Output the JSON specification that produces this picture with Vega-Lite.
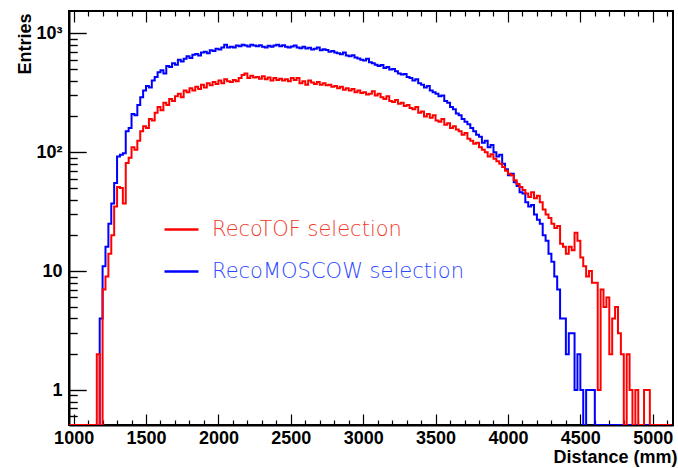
{
  "$schema": "https://vega.github.io/schema/vega-lite/v6.json",
  "width": 604,
  "height": 414,
  "autosize": {"type": "none"},
  "padding": {"left": 69, "top": 11, "right": 5, "bottom": 43},
  "background": "white",
  "config": {
    "view": {"stroke": "black", "strokeWidth": 2},
    "axis": {
      "grid": false,
      "ticks": true,
      "zindex": 1,
      "domainColor": "black",
      "domainWidth": 2,
      "tickColor": "black",
      "tickWidth": 1.2,
      "tickOpacity": 1,
      "gridColor": "black",
      "gridWidth": 1.2,
      "gridOpacity": 1,
      "labelFont": "Liberation Sans",
      "labelFontWeight": "bold",
      "labelFontSize": 18,
      "labelColor": "black",
      "titleFont": "Liberation Sans",
      "titleFontWeight": "bold",
      "titleFontSize": 18,
      "titleColor": "black"
    }
  },
  "data": {
    "values": [
      {"x":970,"r":0,"b":0},{"x":990,"r":0,"b":0},{"x":1010,"r":0,"b":0},{"x":1030,"r":0,"b":0},{"x":1050,"r":0,"b":0},
      {"x":1070,"r":0,"b":0},{"x":1090,"r":0,"b":0},{"x":1110,"r":0,"b":0},{"x":1130,"r":0,"b":0},{"x":1150,"r":0,"b":0},
      {"x":1170,"r":2,"b":0},{"x":1190,"r":0,"b":4},{"x":1210,"r":7,"b":11},{"x":1230,"r":9,"b":16},{"x":1250,"r":14,"b":25},
      {"x":1270,"r":20,"b":37},{"x":1290,"r":35,"b":55},{"x":1310,"r":51,"b":92},{"x":1330,"r":50,"b":95},{"x":1350,"r":37,"b":98},
      {"x":1370,"r":81,"b":150},{"x":1390,"r":90,"b":160},{"x":1410,"r":110,"b":210},{"x":1430,"r":105,"b":205},{"x":1450,"r":125,"b":250},
      {"x":1470,"r":150,"b":290},{"x":1490,"r":165,"b":330},{"x":1510,"r":160,"b":360},{"x":1530,"r":190,"b":350},{"x":1550,"r":185,"b":400},
      {"x":1570,"r":215,"b":430},{"x":1590,"r":240,"b":470},{"x":1610,"r":225,"b":490},{"x":1630,"r":260,"b":460},{"x":1650,"r":250,"b":530},
      {"x":1670,"r":280,"b":520},{"x":1690,"r":270,"b":560},{"x":1710,"r":295,"b":545},{"x":1730,"r":310,"b":600},{"x":1750,"r":290,"b":580},
      {"x":1770,"r":330,"b":610},{"x":1790,"r":320,"b":640},{"x":1810,"r":345,"b":620},{"x":1830,"r":330,"b":660},{"x":1850,"r":355,"b":670},
      {"x":1870,"r":340,"b":650},{"x":1890,"r":370,"b":690},{"x":1910,"r":350,"b":700},{"x":1930,"r":380,"b":680},{"x":1950,"r":365,"b":720},
      {"x":1970,"r":390,"b":710},{"x":1990,"r":375,"b":740},{"x":2010,"r":400,"b":730},{"x":2030,"r":380,"b":760},{"x":2050,"r":410,"b":800},
      {"x":2070,"r":395,"b":760},{"x":2090,"r":390,"b":770},{"x":2110,"r":405,"b":760},{"x":2130,"r":395,"b":790},{"x":2150,"r":420,"b":780},
      {"x":2170,"r":445,"b":800},{"x":2190,"r":460,"b":790},{"x":2210,"r":420,"b":775},{"x":2230,"r":440,"b":800},{"x":2250,"r":425,"b":790},
      {"x":2270,"r":430,"b":780},{"x":2290,"r":415,"b":795},{"x":2310,"r":435,"b":770},{"x":2330,"r":410,"b":760},{"x":2350,"r":425,"b":785},
      {"x":2370,"r":400,"b":770},{"x":2390,"r":420,"b":790},{"x":2410,"r":405,"b":800},{"x":2430,"r":415,"b":780},{"x":2450,"r":400,"b":795},
      {"x":2470,"r":410,"b":770},{"x":2490,"r":395,"b":760},{"x":2510,"r":420,"b":775},{"x":2530,"r":405,"b":790},{"x":2550,"r":420,"b":760},
      {"x":2570,"r":380,"b":750},{"x":2590,"r":395,"b":770},{"x":2610,"r":370,"b":745},{"x":2630,"r":400,"b":755},{"x":2650,"r":385,"b":730},
      {"x":2670,"r":375,"b":740},{"x":2690,"r":390,"b":760},{"x":2710,"r":370,"b":720},{"x":2730,"r":380,"b":735},{"x":2750,"r":365,"b":725},
      {"x":2770,"r":370,"b":700},{"x":2790,"r":355,"b":710},{"x":2810,"r":360,"b":690},{"x":2830,"r":345,"b":680},{"x":2850,"r":355,"b":665},
      {"x":2870,"r":335,"b":690},{"x":2890,"r":345,"b":650},{"x":2910,"r":330,"b":640},{"x":2930,"r":340,"b":655},{"x":2950,"r":320,"b":625},
      {"x":2970,"r":330,"b":615},{"x":2990,"r":315,"b":600},{"x":3010,"r":320,"b":590},{"x":3030,"r":305,"b":610},{"x":3050,"r":310,"b":570},
      {"x":3070,"r":325,"b":560},{"x":3090,"r":300,"b":545},{"x":3110,"r":310,"b":530},{"x":3130,"r":290,"b":540},{"x":3150,"r":280,"b":510},
      {"x":3170,"r":295,"b":520},{"x":3190,"r":270,"b":495},{"x":3210,"r":265,"b":500},{"x":3230,"r":275,"b":480},{"x":3250,"r":255,"b":460},
      {"x":3270,"r":260,"b":450},{"x":3290,"r":245,"b":455},{"x":3310,"r":250,"b":430},{"x":3330,"r":235,"b":420},{"x":3350,"r":230,"b":400},
      {"x":3370,"r":240,"b":410},{"x":3390,"r":215,"b":380},{"x":3410,"r":220,"b":370},{"x":3430,"r":200,"b":350},{"x":3450,"r":210,"b":360},
      {"x":3470,"r":195,"b":330},{"x":3490,"r":205,"b":320},{"x":3510,"r":185,"b":310},{"x":3530,"r":180,"b":295},{"x":3550,"r":190,"b":300},
      {"x":3570,"r":170,"b":270},{"x":3590,"r":175,"b":260},{"x":3610,"r":160,"b":240},{"x":3630,"r":165,"b":230},{"x":3650,"r":155,"b":212},
      {"x":3670,"r":150,"b":205},{"x":3690,"r":140,"b":190},{"x":3710,"r":145,"b":180},{"x":3730,"r":130,"b":172},{"x":3750,"r":125,"b":160},
      {"x":3770,"r":118,"b":150},{"x":3790,"r":120,"b":140},{"x":3810,"r":110,"b":135},{"x":3830,"r":105,"b":120},{"x":3850,"r":100,"b":125},
      {"x":3870,"r":92,"b":110},{"x":3890,"r":96,"b":115},{"x":3910,"r":88,"b":100},{"x":3930,"r":84,"b":92},{"x":3950,"r":80,"b":95},
      {"x":3970,"r":75,"b":80},{"x":3990,"r":70,"b":72},{"x":4010,"r":66,"b":64},{"x":4030,"r":64,"b":66},{"x":4050,"r":58,"b":56},
      {"x":4070,"r":54,"b":52},{"x":4090,"r":51,"b":46},{"x":4110,"r":48,"b":45},{"x":4130,"r":45,"b":38},{"x":4150,"r":42,"b":35},
      {"x":4170,"r":46,"b":36},{"x":4190,"r":41,"b":30},{"x":4210,"r":43,"b":27},{"x":4230,"r":38,"b":25},{"x":4250,"r":33,"b":20},
      {"x":4270,"r":30,"b":18},{"x":4290,"r":28,"b":14},{"x":4310,"r":25,"b":12},{"x":4330,"r":23,"b":9},{"x":4350,"r":24,"b":7},
      {"x":4370,"r":17,"b":4},{"x":4390,"r":16,"b":4},{"x":4410,"r":14,"b":2},{"x":4430,"r":16,"b":3},{"x":4450,"r":15,"b":3},
      {"x":4470,"r":21,"b":1},{"x":4490,"r":18,"b":2},{"x":4510,"r":13,"b":1},{"x":4530,"r":11,"b":0},{"x":4550,"r":9,"b":1},
      {"x":4570,"r":10,"b":1},{"x":4590,"r":8,"b":1},{"x":4610,"r":8,"b":0},{"x":4630,"r":1,"b":0},{"x":4650,"r":7,"b":0},
      {"x":4670,"r":5,"b":0},{"x":4690,"r":6,"b":0},{"x":4710,"r":2,"b":0},{"x":4730,"r":4,"b":0},{"x":4750,"r":5,"b":0},
      {"x":4770,"r":3,"b":0},{"x":4790,"r":2,"b":0},{"x":4810,"r":0,"b":0},{"x":4830,"r":2,"b":0},{"x":4850,"r":1,"b":0},
      {"x":4870,"r":0,"b":0},{"x":4890,"r":1,"b":0},{"x":4910,"r":0,"b":0},{"x":4930,"r":0,"b":0},{"x":4950,"r":1,"b":0},
      {"x":4970,"r":1,"b":0},{"x":4990,"r":0,"b":0},{"x":5010,"r":0,"b":0},{"x":5030,"r":0,"b":0},{"x":5050,"r":0,"b":0},
      {"x":5070,"r":0,"b":0},{"x":5090,"r":0,"b":0},{"x":5110,"r":0,"b":0},{"x":5130,"r":0,"b":0}
    ]
  },
  "transform": [{"fold": ["b", "r"], "as": ["series", "value"]}],
  "encoding": {
    "color": {
      "field": "series",
      "type": "nominal",
      "scale": {"domain": ["r", "b"], "range": ["#ff0000", "#0000ff"]},
      "legend": {
        "orient": "none",
        "legendX": 94,
        "legendY": 200,
        "title": null,
        "padding": 0,
        "symbolType": "stroke",
        "symbolSize": 1156,
        "symbolStrokeWidth": 2.5,
        "labelExpr": "datum.value == 'r' ? 'RecoTOF selection' : 'RecoMOSCOW selection'",
        "labelFont": "DejaVu Sans",
        "labelFontSize": 21,
        "labelFontWeight": 200,
        "labelOffset": 12,
        "labelLimit": 400,
        "rowPadding": 13,
        "encode": {"labels": {"update": {"fill": {"signal": "datum.value == 'r' ? '#f03a2a' : '#2a46ff'"}}}}
      }
    }
  },
  "layer": [
    {
      "transform": [{"filter": "datum.series == 'b'"}],
      "mark": {"type": "line", "interpolate": "step", "strokeWidth": 2, "clip": true},
      "encoding": {
        "x": {
          "field": "x",
          "type": "quantitative",
          "scale": {"domain": [968, 5140], "nice": false, "zero": false},
          "axis": {
            "orient": "bottom",
            "title": "Distance (mm)",
            "format": "d",
            "values": [1000,1500,2000,2500,3000,3500,4000,4500,5000],
            "tickSize": -11,
            "grid": true,
            "gridDash": [11, 2000],
            "labelPadding": 15,
            "titleAlign": "right",
            "titleBaseline": "alphabetic",
            "titleX": 608,
            "titleY": 37
          }
        },
        "y": {
          "field": "value",
          "type": "quantitative",
          "scale": {"type": "log", "domain": [0.508, 1540], "nice": false, "clamp": true},
          "axis": {
            "orient": "left",
            "title": "Entries",
            "values": [1,10,100,1000],
            "tickSize": -17,
            "grid": true,
            "gridDash": [17, 2000],
            "labelExpr": "datum.value == 1000 ? '10³' : datum.value == 100 ? '10²' : datum.value == 10 ? '10' : '1'",
            "labelPadding": 24,
            "titleAngle": 270,
            "titleAlign": "right",
            "titleBaseline": "alphabetic",
            "titleX": -39,
            "titleY": 2
          }
        }
      }
    },
    {
      "transform": [{"filter": "datum.series == 'r'"}],
      "mark": {"type": "line", "interpolate": "step", "strokeWidth": 2, "clip": true},
      "encoding": {
        "x": {
          "field": "x",
          "type": "quantitative",
          "scale": {"domain": [968, 5140], "nice": false, "zero": false},
          "axis": {
            "orient": "bottom",
            "title": null,
            "labels": false,
            "domain": false,
            "values": [1100,1200,1300,1400,1600,1700,1800,1900,2100,2200,2300,2400,2600,2700,2800,2900,3100,3200,3300,3400,3600,3700,3800,3900,4100,4200,4300,4400,4600,4700,4800,4900,5100],
            "tickSize": -5,
            "grid": true,
            "gridDash": [5, 2000]
          }
        },
        "y": {
          "field": "value",
          "type": "quantitative",
          "scale": {"type": "log", "domain": [0.508, 1540], "nice": false, "clamp": true},
          "axis": {
            "orient": "left",
            "title": null,
            "labels": false,
            "domain": false,
            "values": [0.6,0.7,0.8,0.9,2,3,4,5,6,7,8,9,20,30,40,50,60,70,80,90,200,300,400,500,600,700,800,900],
            "tickSize": -8,
            "grid": true,
            "gridDash": [8, 2000]
          }
        }
      }
    }
  ],
  "resolve": {"axis": {"x": "independent", "y": "independent"}}
}
